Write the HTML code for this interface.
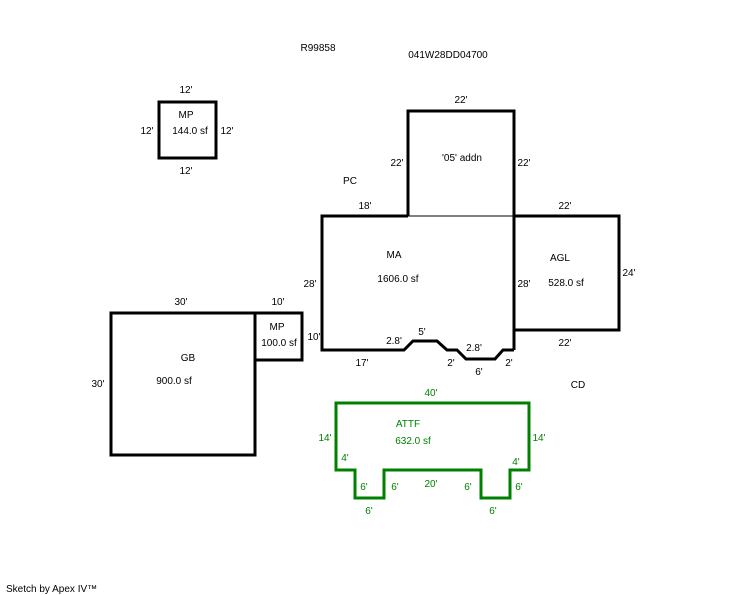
<!DOCTYPE html>
<html><head><style>body{margin:0;background:#fff}svg{display:block}text{font-family:"Liberation Sans",sans-serif;font-size:10px}</style></head>
<body>
<svg width="744" height="595" xmlns="http://www.w3.org/2000/svg">
<line x1="408" y1="216" x2="514" y2="216" stroke="#000" stroke-width="1"/>
<g fill="none" stroke="#000" stroke-width="3">
<rect x="159" y="102" width="57" height="56"/>
<path d="M408,216 V111 H514 V350"/>
<path d="M514,216 H619 V330 H514"/>
<path d="M408,216 H322 V350 H404 L413,341 H437 L447,350 H457 L466,359 H495 L503,350 H514"/>
<rect x="111" y="313" width="144" height="142"/>
<path d="M255,313 H302 V360 H255"/>
</g>
<path d="M336,470 V403 H529 V470 H510 V498 H481 V470 H384 V498 H355 V470 Z" fill="none" stroke="#008000" stroke-width="3"/>
<g fill="#000" text-anchor="middle">
<text x="318" y="51">R99858</text>
<text x="448" y="58">041W28DD04700</text>
<text x="186" y="93">12'</text>
<text x="186" y="118">MP</text>
<text x="190" y="134">144.0 sf</text>
<text x="147" y="134">12'</text>
<text x="227" y="134">12'</text>
<text x="186" y="174">12'</text>
<text x="461" y="103">22'</text>
<text x="397" y="166">22'</text>
<text x="524" y="166">22'</text>
<text x="462" y="161">'05' addn</text>
<text x="350" y="184">PC</text>
<text x="365" y="209">18'</text>
<text x="565" y="209">22'</text>
<text x="394" y="258">MA</text>
<text x="398" y="282">1606.0 sf</text>
<text x="310" y="287">28'</text>
<text x="524" y="287">28'</text>
<text x="560" y="261">AGL</text>
<text x="566" y="286">528.0 sf</text>
<text x="629" y="276">24'</text>
<text x="565" y="346">22'</text>
<text x="181" y="305">30'</text>
<text x="278" y="305">10'</text>
<text x="277" y="330">MP</text>
<text x="279" y="346">100.0 sf</text>
<text x="314" y="340">10'</text>
<text x="188" y="361">GB</text>
<text x="174" y="384">900.0 sf</text>
<text x="98" y="387">30'</text>
<text x="394" y="344">2.8'</text>
<text x="422" y="335">5'</text>
<text x="474" y="351">2.8'</text>
<text x="362" y="366">17'</text>
<text x="451" y="366">2'</text>
<text x="509" y="366">2'</text>
<text x="479" y="375">6'</text>
<text x="578" y="388">CD</text>
</g>
<g fill="#008000" text-anchor="middle">
<text x="431" y="396">40'</text>
<text x="408" y="427">ATTF</text>
<text x="413" y="444">632.0 sf</text>
<text x="325" y="441">14'</text>
<text x="539" y="441">14'</text>
<text x="345" y="461">4'</text>
<text x="516" y="465">4'</text>
<text x="364" y="490">6'</text>
<text x="395" y="490">6'</text>
<text x="431" y="487">20'</text>
<text x="468" y="490">6'</text>
<text x="519" y="490">6'</text>
<text x="369" y="514">6'</text>
<text x="493" y="514">6'</text>
</g>
<text x="6" y="592" font-size="9">Sketch by Apex IV™</text>
</svg>
</body></html>
